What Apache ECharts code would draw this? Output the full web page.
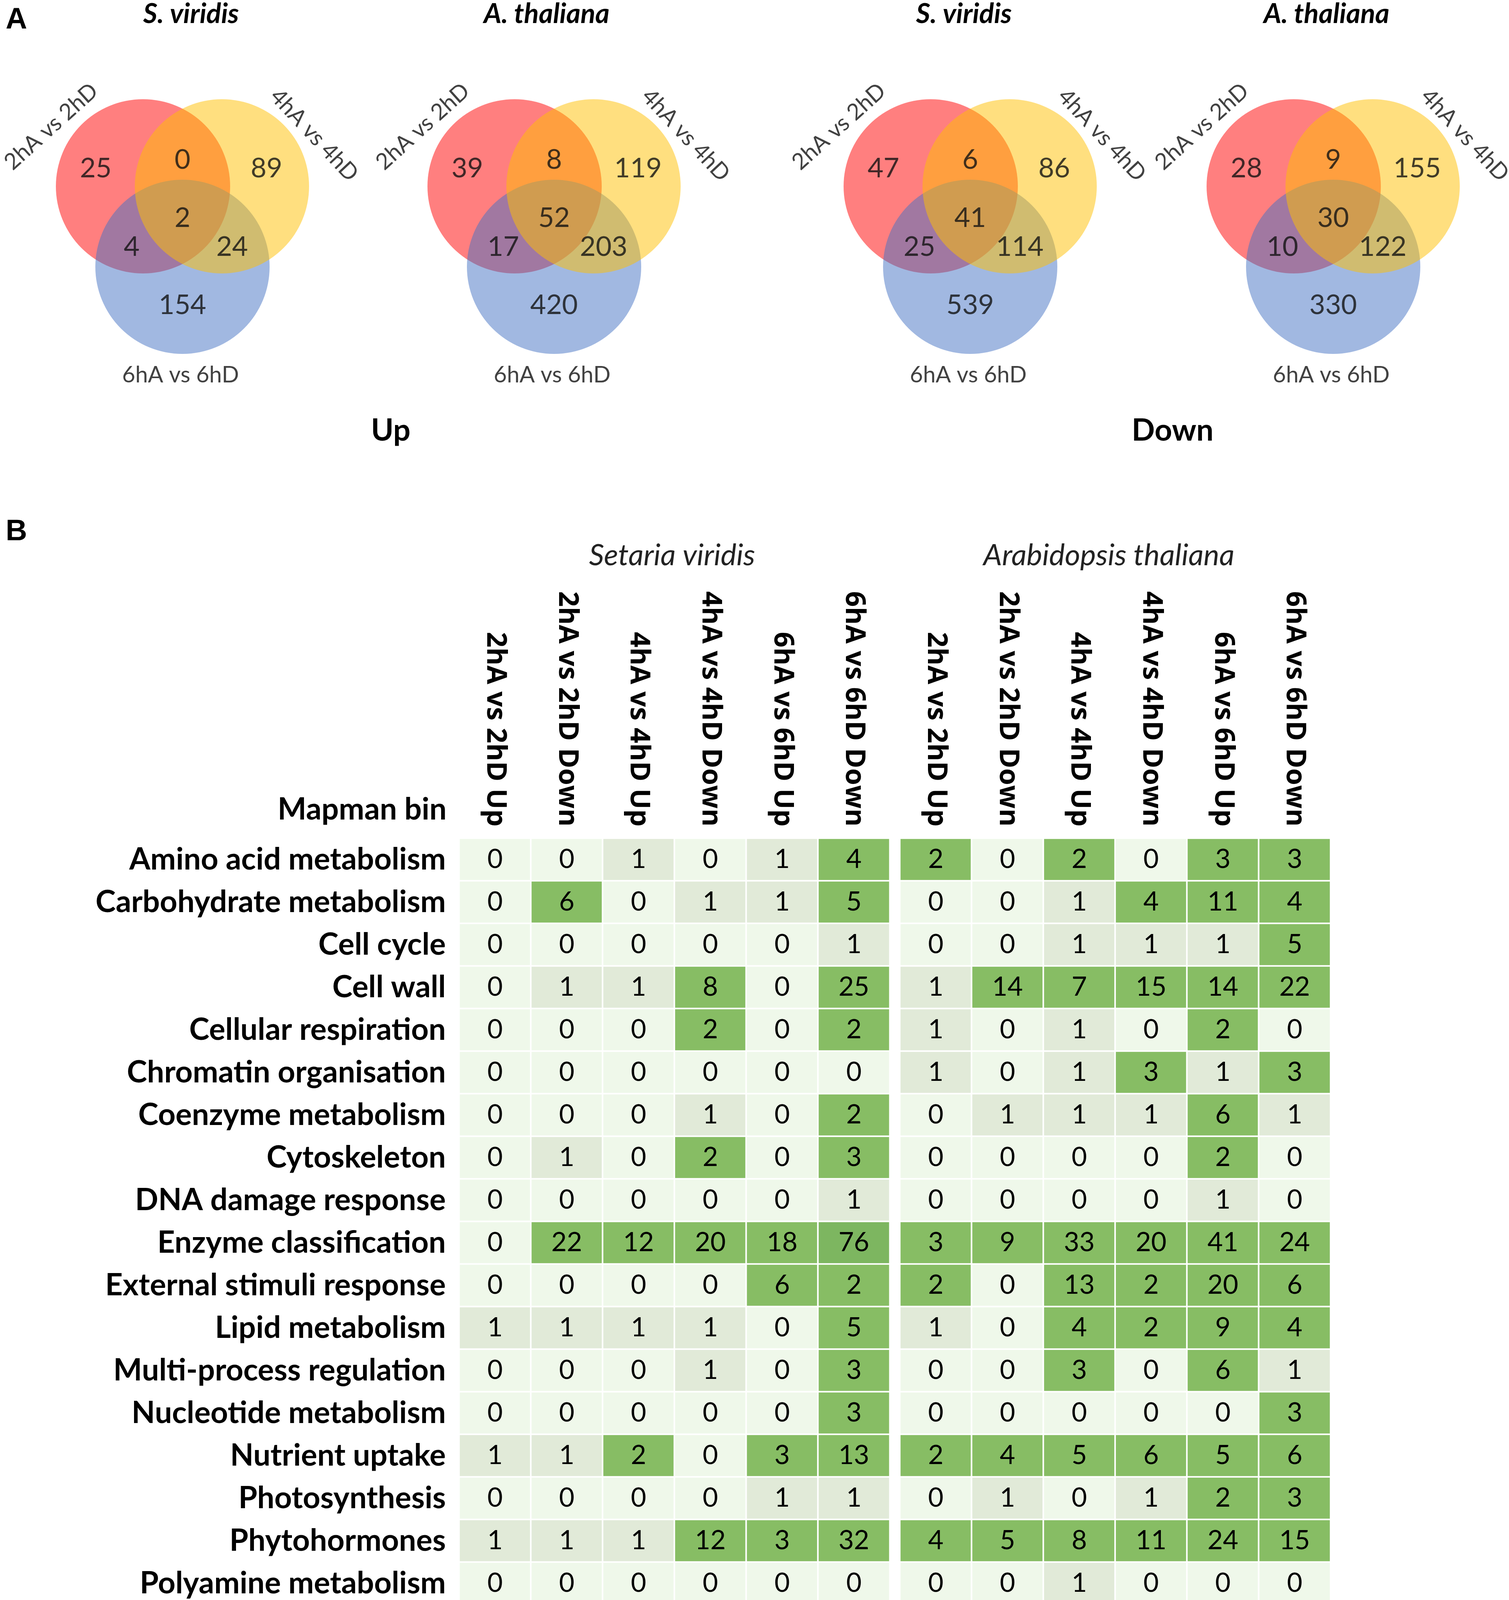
<!DOCTYPE html>
<html><head><meta charset="utf-8">
<script src="https://cdn.jsdelivr.net/npm/echarts@6/dist/echarts.min.js"></script>
<style>html,body{margin:0;padding:0;background:#fff}#c{width:3862px;height:5549px}</style>
</head><body><div id="c"></div>
<script>
// ---------- DATA ----------
// Venn region order: [2h only, 2h∩4h, 4h only, all three, 2h∩6h, 4h∩6h, 6h only]
const vennUpSv   = [25, 0, 89, 2, 4, 24, 154];
const vennUpAt   = [39, 8, 119, 52, 17, 203, 420];
const vennDownSv = [47, 6, 86, 41, 25, 114, 539];
const vennDownAt = [28, 9, 155, 30, 10, 122, 330];
const vennSetNames = ['2hA vs 2hD', '4hA vs 4hD', '6hA vs 6hD'];
const vennTitles = ['S. viridis', 'A. thaliana', 'S. viridis', 'A. thaliana'];

const rowNames = ['Amino acid metabolism','Carbohydrate metabolism','Cell cycle','Cell wall','Cellular respiration',
  'Chromatin organisation','Coenzyme metabolism','Cytoskeleton','DNA damage response','Enzyme classification',
  'External stimuli response','Lipid metabolism','Multi-process regulation','Nucleotide metabolism','Nutrient uptake',
  'Photosynthesis','Phytohormones','Polyamine metabolism','Protein biosynthesis','Protein degradation',
  'Protein modification','Protein translocation','Redox homeostasis','RNA biosynthesis','RNA processing',
  'Secondary metabolism','Solute transport','Vesicle trafficking','Not assigned'];
const colLabels = ['2hA vs 2hD Up','2hA vs 2hD Down','4hA vs 4hD Up','4hA vs 4hD Down','6hA vs 6hD Up','6hA vs 6hD Down'];
const svValues = [
  [0,0,1,0,1,4],[0,6,0,1,1,5],[0,0,0,0,0,1],[0,1,1,8,0,25],[0,0,0,2,0,2],
  [0,0,0,0,0,0],[0,0,0,1,0,2],[0,1,0,2,0,3],[0,0,0,0,0,1],[0,22,12,20,18,76],
  [0,0,0,0,6,2],[1,1,1,1,0,5],[0,0,0,1,0,3],[0,0,0,0,0,3],[1,1,2,0,3,13],
  [0,0,0,0,1,1],[1,1,1,12,3,32],[0,0,0,0,0,0],[0,1,1,0,2,3],[0,2,3,3,3,13],
  [0,2,5,9,3,31],[0,0,0,0,0,0],[0,1,0,1,0,0],[0,1,5,1,10,41],[0,0,0,0,1,0],
  [0,1,0,0,0,2],[2,1,9,4,8,39],[0,1,0,1,1,4],[27,76,76,180,126,418]];
const atValues = [
  [2,0,2,0,3,3],[0,0,1,4,11,4],[0,0,1,1,1,5],[1,14,7,15,14,22],[1,0,1,0,2,0],
  [1,0,1,3,1,3],[0,1,1,1,6,1],[0,0,0,0,2,0],[0,0,0,0,1,0],[3,9,33,20,41,24],
  [2,0,13,2,20,6],[1,0,4,2,9,4],[0,0,3,0,6,1],[0,0,0,0,0,3],[2,4,5,6,5,6],
  [0,1,0,1,2,3],[4,5,8,11,24,15],[0,0,1,0,0,0],[0,0,0,10,0,79],[2,2,18,2,25,5],
  [2,2,26,12,37,17],[0,0,0,0,0,2],[0,0,0,2,1,2],[11,3,31,18,66,22],[0,1,0,3,0,14],
  [0,0,5,3,7,1],[2,5,27,21,38,18],[1,0,2,0,4,0],[79,34,198,163,380,239]];
const scaleMin = '0', scaleMax = '400';

// ---------- LAYOUT / STYLE ----------
const vennCenters = [[467,558],[1418,558],[2483,558],[3412,558]];
const circleGeom = [[-101,81,'rgba(255,0,0,0.5)'],[0,-125,'rgba(68,114,196,0.5)'],[101,81,'rgba(255,192,0,0.5)']];
const regionPos = [[-222,127],[0,149],[215,127],[0,0],[-130,-74],[127,-74],[0,-223]];
const setLabelPos = [[-336,234,42],[337,212,-47],[-5,-402,0]];
const HALF = 450;

const grids = [], xAxes = [], yAxes = [], series = [];
const vennData = [vennUpSv, vennUpAt, vennDownSv, vennDownAt];
vennCenters.forEach((c, i) => {
  grids.push({left: c[0]-HALF, top: c[1]-HALF, width: 2*HALF, height: 2*HALF, show: false});
  xAxes.push({type:'value', gridIndex:i, min:-HALF, max:HALF, show:false});
  yAxes.push({type:'value', gridIndex:i, min:-HALF, max:HALF, show:false});
});
vennCenters.forEach((c, i) => {
  series.push({
    type:'scatter', xAxisIndex:i, yAxisIndex:i, symbol:'circle', symbolSize:446, silent:true, clip:false, z:1,
    itemStyle:{opacity:1},
    data: circleGeom.map(g => ({value:[g[0], g[1]], itemStyle:{color:g[2], opacity:1}}))
  });
  const lab = vennData[i].map((v, k) => ({value:[regionPos[k][0], regionPos[k][1], v],
      label:{fontSize:70}}));
  vennSetNames.forEach((n, k) => lab.push({value:[setLabelPos[k][0], setLabelPos[k][1], n],
      label:{fontSize:58, rotate:setLabelPos[k][2]}}));
  series.push({
    type:'scatter', xAxisIndex:i, yAxisIndex:i, symbolSize:0, silent:true, clip:false, z:3,
    data: lab,
    label:{show:true, position:'inside', color:'#111', fontFamily:'Lato', formatter: p => String(p.value[2])}
  });
});

// heatmap grids
const hmTop = 2146, rowH = 109, colW = 183.7;
const hmLeft = [1175, 2303];
hmLeft.forEach((l, j) => {
  const gi = 4 + j;
  grids.push({left:l, top:hmTop, width:colW*6, height:rowH*rowNames.length, show:false});
  xAxes.push({type:'category', gridIndex:gi, data:colLabels, position:'top',
    axisLine:{show:false}, axisTick:{show:false}, splitLine:{show:false},
    axisLabel:{show:true, rotate:90, interval:0, margin:30, color:'#000', fontFamily:'Open Sans', fontWeight:'bold', fontSize:70}});
  yAxes.push({type:'category', gridIndex:gi, data:rowNames, inverse:true,
    axisLine:{show:false}, axisTick:{show:false}, splitLine:{show:false},
    axisLabel:{show: j === 0, interval:0, margin:34, color:'#000', fontFamily:'Lato', fontWeight:'bold', fontSize:78}});
});
[svValues, atValues].forEach((vals, j) => {
  const d = [];
  vals.forEach((row, r) => row.forEach((v, c) => d.push([c, r, v])));
  series.push({
    type:'heatmap', xAxisIndex:4+j, yAxisIndex:4+j, data:d, silent:true,
    label:{show:true, color:'#000', fontFamily:'Lato', fontSize:68},
    itemStyle:{borderColor:'#fff', borderWidth:4},
    emphasis:{disabled:true}
  });
});

const texts = [
  {t:'A', x:42, y:52, s:76, w:'bold', f:'Liberation Sans'},
  {t:'B', x:42, y:1362, s:76, w:'bold', f:'Liberation Sans'},
  {t:vennTitles[0], x:489, y:36, s:70, w:'bold', st:'italic'},
  {t:vennTitles[1], x:1399, y:36, s:70, w:'bold', st:'italic'},
  {t:vennTitles[2], x:2467, y:36, s:70, w:'bold', st:'italic'},
  {t:vennTitles[3], x:3395, y:36, s:70, w:'bold', st:'italic'},
  {t:'Up', x:1000, y:1103, s:78, w:'bold'},
  {t:'Down', x:3001, y:1103, s:78, w:'bold'},
  {t:'Setaria viridis', x:1720, y:1422, s:76, w:'normal', st:'italic', c:'#222'},
  {t:'Arabidopsis thaliana', x:2838, y:1422, s:76, w:'normal', st:'italic', c:'#222'},
  {t:'Mapman bin', x:1143, y:2073, s:78, w:'bold', a:'right'},
  {t:scaleMin, x:1384, y:5485, s:72, w:'bold'},
  {t:scaleMax, x:3144, y:5485, s:72, w:'bold'},
  {t:'Number of DEGs', x:2254, y:5512, s:76, w:'bold'}
];
const graphic = texts.map(o => ({
  type:'text', x:o.x, y:o.y, silent:true, z:10,
  style:{text:o.t, fill:o.c || '#000', fontSize:o.s, fontWeight:o.w, fontStyle:o.st || 'normal',
    fontFamily:o.f || 'Lato', align:o.a || 'center', verticalAlign:'middle',
    textAlign:o.a || 'center', textVerticalAlign:'middle'}
}));

const option = {
  backgroundColor:'#fff',
  animation:false,
  grid:grids, xAxis:xAxes, yAxis:yAxes, series:series, graphic:graphic,
  visualMap:[{
    type:'piecewise', seriesIndex:[8,9], dimension:2, orient:'horizontal',
    left:1359, top:5345, itemWidth:184, itemHeight:76, itemGap:0, itemSymbol:'rect',
    showLabel:false, padding:0, hoverLink:false, selectedMode:false,
    pieces:[
      {value:0, color:'#eff8ea'},
      {value:1, color:'#e1ead8'},
      {gte:2, lt:50, color:'#87bd64'},
      {gte:50, lt:100, color:'#7db660'},
      {gte:100, lt:150, color:'#6fa95a'},
      {gte:150, lt:200, color:'#62a054'},
      {gte:200, lt:250, color:'#56934d'},
      {gte:250, lt:300, color:'#4a8948'},
      {gte:300, lt:350, color:'#3d7f44'},
      {gte:350, color:'#2f7642'}
    ]
  }]
};
const chart = echarts.init(document.getElementById('c'), null, {renderer:'canvas', width:3862, height:5549});
chart.setOption(option);
</script></body></html>
